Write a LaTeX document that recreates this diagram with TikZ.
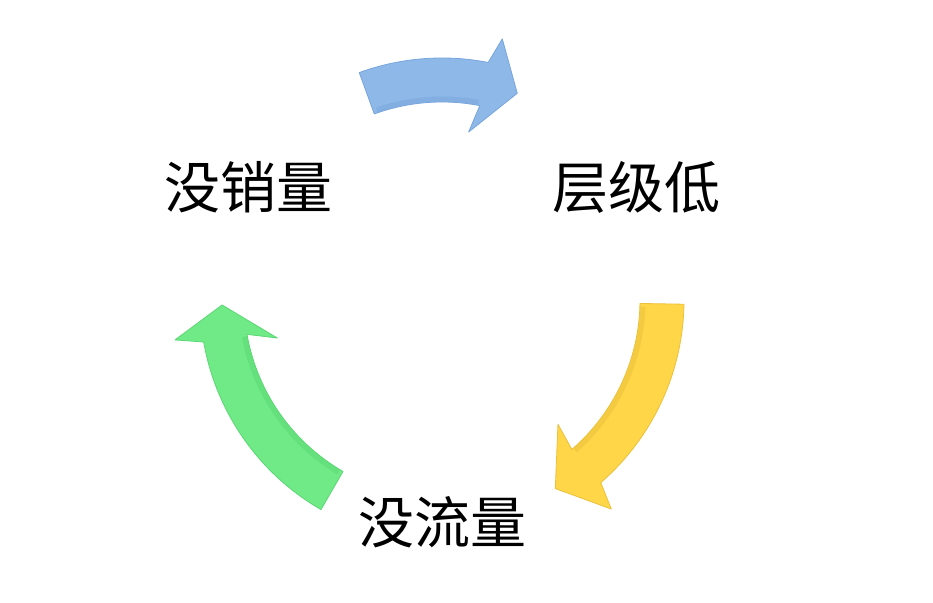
\documentclass[tikz,border=0pt]{standalone}
\usepackage{fontspec}
\newfontfamily\cjk{Noto Sans CJK SC}
\definecolor{arrBlue}{RGB}{141,184,232}
\definecolor{arrBlueD}{RGB}{120,165,220}
\definecolor{arrYellow}{RGB}{255,214,72}
\definecolor{arrYellowD}{RGB}{235,192,60}
\definecolor{arrGreen}{RGB}{112,234,134}
\definecolor{arrGreenD}{RGB}{90,215,115}
\tikzset{
  lbl/.style={font=\cjk\fontsize{56}{56}\selectfont, text=black, inner sep=0pt},
  blockarrow/.style={fill=#1, draw=#1D, line width=0.8pt, line join=round},
}
\newcommand{\curvedarrow}[8]{%
  % #1 color, #2 tail angle, #3 base angle, #4 outer barb angle, #5 tip angle, #6 inner barb angle, #7 outer barb r, #8 inner barb r
  \path[blockarrow=#1] (#2:242pt) arc[start angle=#2,end angle=#3,radius=242pt]
    -- (#4:#7) -- (#5:220pt) -- (#6:#8) -- (#3:198pt)
    arc[start angle=#3,end angle=#2,radius=198pt] -- cycle;
  \path[draw=#1D, opacity=0.5, line width=5pt] (#2-1:201pt) arc[start angle=#2-1,end angle=#3+0.5,radius=201pt];
}
\begin{document}
\begin{tikzpicture}[x=1pt,y=1pt]
\useasboundingbox (0,0) rectangle (933,602);
\begin{scope}[shift={(442,302)}]
  \curvedarrow{arrBlue}{110}{79}{77}{70}{81}{268pt}{170pt}
  \curvedarrow{arrYellow}{-1}{-49}{-51}{-59}{-47}{269pt}{170pt}
  \curvedarrow{arrGreen}{240}{190}{188.5}{181.3}{193}{270pt}{169pt}
\end{scope}
\node[lbl] (xiaoliang) at (248,415) {没销量};
\node[lbl] (cengji) at (636,415) {层级低};
\node[lbl] (liuliang) at (442,80) {没流量};
\end{tikzpicture}
\end{document}
